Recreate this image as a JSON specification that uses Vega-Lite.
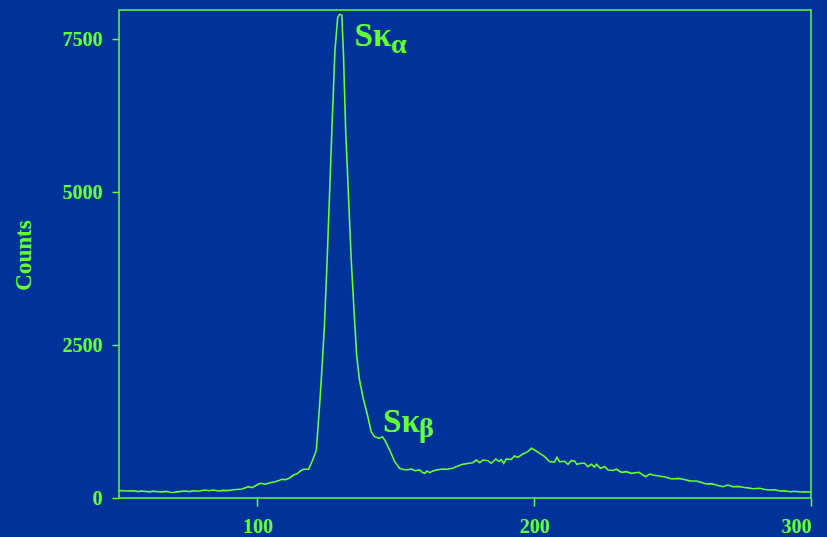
{
  "$schema": "https://vega.github.io/schema/vega-lite/v6.json",
  "width": 692,
  "height": 488,
  "autosize": {"type": "none"},
  "padding": {"left": 119, "top": 10, "right": 16, "bottom": 39},
  "background": "#003399",
  "config": {
    "view": {"stroke": "#66FF33", "strokeWidth": 1.5},
    "axis": {
      "grid": false,
      "domain": false,
      "tickColor": "#66FF33",
      "tickWidth": 1.5,
      "labelColor": "#66FF33",
      "titleColor": "#66FF33",
      "labelFont": "Liberation Serif",
      "labelFontWeight": "bold",
      "labelFontSize": 20,
      "titleFont": "Liberation Serif",
      "titleFontWeight": "bold",
      "titleFontSize": 23
    }
  },
  "datasets": {
    "spectrum": [
      {"channel": 50.0, "counts": 120}, {"channel": 51.5, "counts": 118}, {"channel": 53, "counts": 115},
      {"channel": 55, "counts": 118}, {"channel": 56, "counts": 112}, {"channel": 57, "counts": 105},
      {"channel": 58, "counts": 115}, {"channel": 59.5, "counts": 108}, {"channel": 61, "counts": 100},
      {"channel": 62.5, "counts": 112}, {"channel": 64, "counts": 102}, {"channel": 65.5, "counts": 100},
      {"channel": 67, "counts": 108}, {"channel": 68.5, "counts": 95}, {"channel": 69.7, "counts": 90},
      {"channel": 71, "counts": 100}, {"channel": 72.5, "counts": 108}, {"channel": 74, "counts": 115},
      {"channel": 75.5, "counts": 105}, {"channel": 77, "counts": 118}, {"channel": 78.5, "counts": 110},
      {"channel": 80, "counts": 122}, {"channel": 81.2, "counts": 130}, {"channel": 82.5, "counts": 118},
      {"channel": 84.2, "counts": 130}, {"channel": 86, "counts": 115}, {"channel": 87.5, "counts": 125},
      {"channel": 89, "counts": 120}, {"channel": 90.8, "counts": 130}, {"channel": 92.5, "counts": 138},
      {"channel": 94.4, "counts": 147}, {"channel": 96, "counts": 170}, {"channel": 96.8, "counts": 185},
      {"channel": 98, "counts": 170}, {"channel": 99.5, "counts": 205}, {"channel": 101, "counts": 240},
      {"channel": 102.8, "counts": 225}, {"channel": 104.5, "counts": 250}, {"channel": 106.5, "counts": 266},
      {"channel": 107.5, "counts": 280}, {"channel": 108.8, "counts": 305}, {"channel": 110, "counts": 300},
      {"channel": 111.3, "counts": 320}, {"channel": 113.1, "counts": 375}, {"channel": 114.5, "counts": 400},
      {"channel": 115.5, "counts": 441}, {"channel": 116.7, "counts": 469}, {"channel": 118.5, "counts": 469},
      {"channel": 119.7, "counts": 593}, {"channel": 120.9, "counts": 730}, {"channel": 121.3, "counts": 785},
      {"channel": 122.6, "counts": 1600}, {"channel": 123.5, "counts": 2250}, {"channel": 124.2, "counts": 2794},
      {"channel": 125.2, "counts": 3889}, {"channel": 126.9, "counts": 6000}, {"channel": 128.0, "counts": 7300},
      {"channel": 129.0, "counts": 7850}, {"channel": 129.7, "counts": 7904}, {"channel": 130.5, "counts": 7892},
      {"channel": 131.1, "counts": 7250}, {"channel": 131.9, "counts": 6000}, {"channel": 133.9, "counts": 3889},
      {"channel": 135.1, "counts": 2908}, {"channel": 135.9, "counts": 2309}, {"channel": 136.9, "counts": 1928},
      {"channel": 138.1, "counts": 1655}, {"channel": 139.9, "counts": 1328}, {"channel": 141.1, "counts": 1083},
      {"channel": 142.3, "counts": 1002}, {"channel": 144.1, "counts": 975}, {"channel": 145.1, "counts": 1002},
      {"channel": 146.0, "counts": 948}, {"channel": 147.8, "counts": 784}, {"channel": 149.6, "counts": 593},
      {"channel": 151.4, "counts": 485}, {"channel": 152.5, "counts": 470}, {"channel": 153.8, "counts": 458},
      {"channel": 155.6, "counts": 474}, {"channel": 157, "counts": 445}, {"channel": 158.6, "counts": 458},
      {"channel": 159.5, "counts": 420}, {"channel": 160.4, "counts": 403}, {"channel": 161.3, "counts": 440},
      {"channel": 162.2, "counts": 414}, {"channel": 163.5, "counts": 440}, {"channel": 164.6, "counts": 458},
      {"channel": 166.9, "counts": 474}, {"channel": 168.5, "counts": 470}, {"channel": 170.5, "counts": 485},
      {"channel": 172.3, "counts": 520}, {"channel": 174.1, "counts": 550}, {"channel": 176, "counts": 565},
      {"channel": 177.8, "counts": 577}, {"channel": 179.1, "counts": 621}, {"channel": 180.3, "counts": 577},
      {"channel": 181.5, "counts": 621}, {"channel": 183.3, "counts": 610}, {"channel": 184.5, "counts": 567},
      {"channel": 186.1, "counts": 637}, {"channel": 187.3, "counts": 595}, {"channel": 188.1, "counts": 625},
      {"channel": 189.0, "counts": 567}, {"channel": 189.9, "counts": 637}, {"channel": 191.7, "counts": 630},
      {"channel": 192.9, "counts": 686}, {"channel": 194.1, "counts": 665}, {"channel": 195.9, "counts": 719},
      {"channel": 197.7, "counts": 757}, {"channel": 199.0, "counts": 812}, {"channel": 200.2, "counts": 784},
      {"channel": 202.0, "counts": 730}, {"channel": 203.8, "counts": 675}, {"channel": 205.6, "counts": 593},
      {"channel": 207.4, "counts": 590}, {"channel": 208.2, "counts": 665}, {"channel": 209.2, "counts": 593},
      {"channel": 211.0, "counts": 600}, {"channel": 212.2, "counts": 550}, {"channel": 213.4, "counts": 610},
      {"channel": 214.6, "counts": 605}, {"channel": 215.4, "counts": 550}, {"channel": 217.0, "counts": 567},
      {"channel": 218.2, "counts": 567}, {"channel": 219.4, "counts": 511}, {"channel": 220.7, "counts": 550},
      {"channel": 221.8, "counts": 505}, {"channel": 222.5, "counts": 550}, {"channel": 223.9, "counts": 485},
      {"channel": 225.5, "counts": 511}, {"channel": 226.7, "counts": 458}, {"channel": 228.5, "counts": 450},
      {"channel": 229.7, "counts": 470}, {"channel": 231.5, "counts": 420}, {"channel": 233.3, "counts": 430},
      {"channel": 235.1, "counts": 403}, {"channel": 237.9, "counts": 420}, {"channel": 239.3, "counts": 375},
      {"channel": 240.3, "counts": 348}, {"channel": 241.7, "counts": 392}, {"channel": 242.9, "counts": 375},
      {"channel": 245, "counts": 360}, {"channel": 247.8, "counts": 338}, {"channel": 249.0, "counts": 320},
      {"channel": 250.2, "counts": 310}, {"channel": 252, "counts": 320}, {"channel": 253.8, "counts": 305},
      {"channel": 256.2, "counts": 280}, {"channel": 258.6, "counts": 278}, {"channel": 260.5, "counts": 255},
      {"channel": 262.2, "counts": 229}, {"channel": 264, "counts": 235}, {"channel": 265.8, "counts": 212},
      {"channel": 268.2, "counts": 185}, {"channel": 270.0, "counts": 212}, {"channel": 271.8, "counts": 185},
      {"channel": 273.5, "counts": 190}, {"channel": 275.4, "counts": 175}, {"channel": 277.2, "counts": 165},
      {"channel": 279.1, "counts": 152}, {"channel": 281.5, "counts": 160}, {"channel": 283.3, "counts": 140},
      {"channel": 285.1, "counts": 131}, {"channel": 287, "counts": 135}, {"channel": 288.7, "counts": 114},
      {"channel": 290.5, "counts": 118}, {"channel": 292.4, "counts": 103}, {"channel": 294, "counts": 110},
      {"channel": 296.0, "counts": 98}, {"channel": 298, "counts": 102}, {"channel": 300, "counts": 93}
    ],
    "labels": [
      {"channel": 135.1, "counts": 7386, "text": "Sκ"},
      {"channel": 145.4, "counts": 1083, "text": "Sκ"}
    ],
    "subs": [
      {"channel": 148.3, "counts": 7280, "text": "α"},
      {"channel": 158.4, "counts": 997, "text": "β"}
    ]
  },
  "encoding": {
    "x": {
      "field": "channel", "type": "quantitative",
      "scale": {"domain": [50, 300], "nice": false, "zero": false},
      "axis": {"values": [100, 200, 300], "format": "d", "title": null, "tickSize": 8, "labelPadding": 10}
    },
    "y": {
      "field": "counts", "type": "quantitative",
      "scale": {"domain": [0, 7975], "nice": false},
      "axis": {
        "values": [0, 2500, 5000, 7500], "format": "d", "title": "Counts", "tickSize": 7, "labelPadding": 10,
        "titleX": -89, "titleY": 245, "titleAlign": "center", "titleBaseline": "alphabetic", "titleAngle": -90
      }
    }
  },
  "layer": [
    {
      "data": {"name": "spectrum"},
      "mark": {"type": "line", "color": "#66FF33", "strokeWidth": 1.6}
    },
    {
      "data": {"name": "labels"},
      "mark": {"type": "text", "font": "Liberation Serif", "fontWeight": "bold", "fontSize": 33, "color": "#66FF33", "align": "left", "baseline": "alphabetic"},
      "encoding": {"text": {"field": "text"}}
    },
    {
      "data": {"name": "subs"},
      "mark": {"type": "text", "font": "Liberation Serif", "fontWeight": "bold", "fontSize": 28, "color": "#66FF33", "align": "left", "baseline": "alphabetic"},
      "encoding": {"text": {"field": "text"}}
    }
  ]
}
